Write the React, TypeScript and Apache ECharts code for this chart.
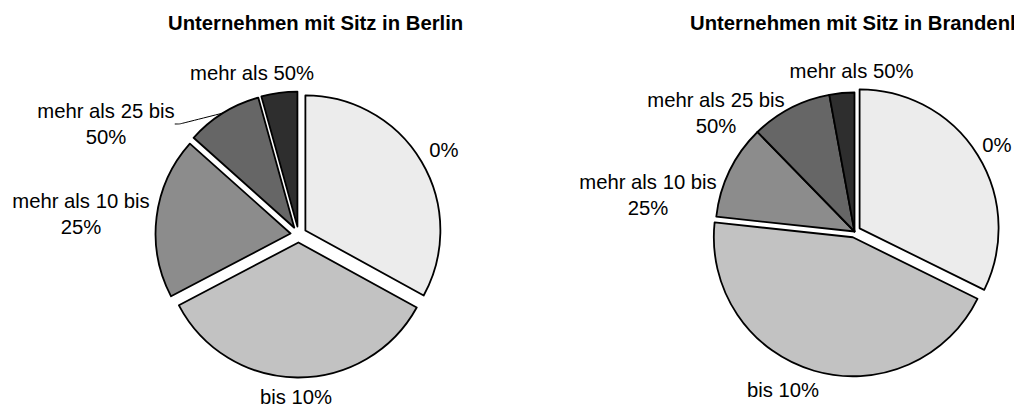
import React, { useEffect, useRef } from "react";
import * as echarts from "echarts";

// ---- data ----
const categories = [
  "0%",
  "bis 10%",
  "mehr als 10 bis\n25%",
  "mehr als 25 bis\n50%",
  "mehr als 50%",
];
const berlinValues = [33.0, 34.3, 19.3, 9.1, 4.3];
const brandenburgValues = [32.3, 44.4, 11.0, 9.4, 2.9];
const titles = [
  "Unternehmen mit Sitz in Berlin",
  "Unternehmen mit Sitz in Brandenburg",
];

// ---- styling / layout ----
const FILLS = ["#ececec", "#c2c2c2", "#8c8c8c", "#666666", "#2e2e2e"];
const FONT = "'Liberation Sans', Arial, Helvetica, sans-serif";

const berlinLayout = {
  center: [298.5, 234.5],
  radius: 135,
  offset: 8,
  exploded: [true, true, true, true, true],
  leader: [false, false, false, true, false],
  labelPos: [
    [444, 150],
    [296, 397],
    [81, 213.5],
    [106, 124],
    [252, 73],
  ],
};
const brandenburgLayout = {
  center: [854.5, 231.5],
  radius: 139,
  offset: 6,
  exploded: [true, true, false, false, false],
  leader: [false, false, false, false, false],
  labelPos: [
    [997, 145],
    [783, 390],
    [648, 194.5],
    [716, 112.7],
    [851.5, 70.7],
  ],
};

// sectors (exploded via selection), no labels
function sectorSeries(values: number[], lay: any) {
  return {
    type: "pie",
    center: lay.center,
    radius: lay.radius,
    startAngle: 90,
    clockwise: true,
    selectedMode: "multiple",
    selectedOffset: lay.offset,
    emphasis: { disabled: true },
    itemStyle: { borderColor: "#000", borderWidth: 1.8 },
    label: { show: false },
    labelLine: { show: false },
    data: values.map((v, i) => ({
      name: categories[i],
      value: v,
      selected: lay.exploded[i],
      itemStyle: { color: FILLS[i] },
    })),
  };
}

// transparent twin that carries the labels
function labelSeries(values: number[], lay: any) {
  return {
    type: "pie",
    center: lay.center,
    radius: lay.radius + lay.offset,
    startAngle: 90,
    clockwise: true,
    silent: true,
    selectedMode: false,
    avoidLabelOverlap: false,
    emphasis: { disabled: true },
    itemStyle: { color: "rgba(0,0,0,0)", borderWidth: 0 },
    label: {
      show: true,
      position: "outside",
      formatter: "{b}",
      fontSize: 20.3,
      lineHeight: 26,
      color: "#000",
      fontFamily: FONT,
      align: "center",
    },
    labelLine: {
      show: false,
      length: 10,
      length2: 5,
      smooth: 0.2,
      lineStyle: { color: "#000", width: 1 },
    },
    labelLayout: (p: any) => ({
      x: lay.labelPos[p.dataIndex][0],
      y: lay.labelPos[p.dataIndex][1],
      align: "center",
      verticalAlign: "middle",
    }),
    data: values.map((v, i) => ({
      name: categories[i],
      value: v,
      labelLine: { show: lay.leader[i] },
    })),
  };
}

export default function App() {
  const ref = useRef<HTMLDivElement>(null);
  useEffect(() => {
    document.body.style.margin = "0";
    const chart = echarts.init(ref.current!, undefined, { renderer: "svg" });
    const titleStyle = { fontSize: 20.3, fontWeight: "bold", color: "#000", fontFamily: FONT };
    chart.setOption({
      animation: false,
      backgroundColor: "#fff",
      title: [
        { text: titles[0], left: 168, top: 13, padding: 0, textStyle: titleStyle },
        { text: titles[1], left: 690, top: 13, padding: 0, textStyle: titleStyle },
      ],
      series: [
        sectorSeries(berlinValues, berlinLayout),
        sectorSeries(brandenburgValues, brandenburgLayout),
        labelSeries(berlinValues, berlinLayout),
        labelSeries(brandenburgValues, brandenburgLayout),
      ],
    });
    return () => chart.dispose();
  }, []);
  return <div ref={ref} style={{ width: 1014, height: 407 }} />;
}
